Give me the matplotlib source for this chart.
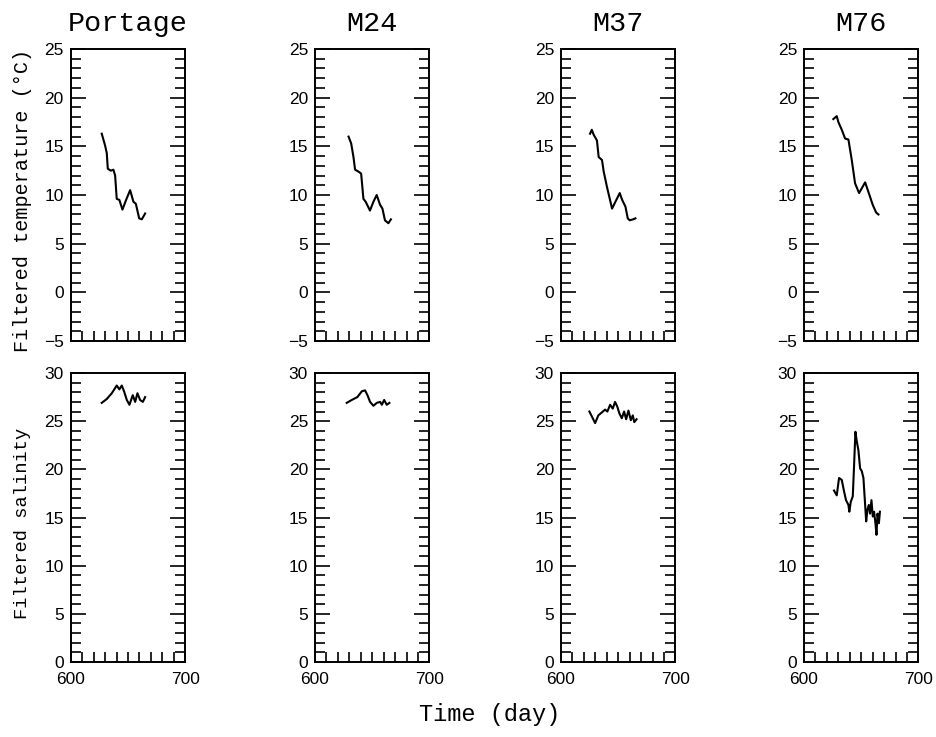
import matplotlib
matplotlib.use("Agg")
import matplotlib.pyplot as plt
from matplotlib.ticker import MultipleLocator, FixedLocator

# stations
STATIONS = ["Portage", "M24", "M37", "M76"]

# filtered temperature (deg C) vs day
portage_t_day = [627.1, 630.0, 631.5, 632.4, 635.0, 637.3, 638.8, 640.2, 642.5, 645.2,
                 648.4, 651.9, 654.8, 656.9, 659.8, 662.1, 665.0]
portage_t = [16.3, 15.1, 14.3, 12.7, 12.5, 12.6, 12.0, 9.6, 9.5, 8.5,
             9.5, 10.5, 9.3, 9.1, 7.6, 7.5, 8.1]

m24_t_day = [629.3, 631.6, 633.6, 635.0, 638.0, 640.3, 642.3, 644.3, 648.0, 651.0,
             653.9, 656.8, 658.9, 661.1, 664.1, 666.3]
m24_t = [16.0, 15.3, 13.9, 12.6, 12.4, 12.2, 9.6, 9.3, 8.4, 9.3,
         10.0, 9.0, 8.6, 7.4, 7.1, 7.5]

m37_t_day = [625.4, 626.9, 628.5, 631.4, 632.9, 635.8, 637.3, 640.2, 644.6, 647.5,
             651.3, 653.4, 656.3, 658.3, 660.0, 663.0, 665.0]
m37_t = [16.3, 16.7, 16.2, 15.6, 13.9, 13.6, 12.4, 10.8, 8.6, 9.3,
         10.2, 9.5, 8.8, 7.6, 7.4, 7.5, 7.6]

m76_t_day = [625.6, 628.6, 630.0, 633.0, 635.9, 638.8, 641.7, 644.6, 648.1, 653.4,
             656.3, 660.0, 663.0, 665.0]
m76_t = [17.8, 18.1, 17.5, 16.7, 15.8, 15.7, 13.6, 11.2, 10.2, 11.3,
         10.3, 9.0, 8.2, 8.0]

# filtered salinity vs day
portage_s_day = [627.1, 631.5, 635.9, 640.2, 642.5, 644.6, 646.6, 649.0, 651.3, 654.2,
                 656.3, 658.3, 660.6, 663.0, 665.0]
portage_s = [26.9, 27.3, 27.9, 28.7, 28.3, 28.7, 28.1, 27.2, 26.7, 27.7,
             27.0, 27.9, 27.2, 27.0, 27.5]

m24_s_day = [627.7, 632.1, 637.0, 640.9, 643.7, 645.8, 648.1, 651.0, 654.0, 656.9,
             658.4, 660.4, 662.7, 665.0]
m24_s = [26.9, 27.2, 27.5, 28.1, 28.2, 27.7, 27.0, 26.6, 26.9, 27.0,
         26.7, 27.2, 26.7, 26.9]

m37_s_day = [624.8, 626.9, 629.8, 632.6, 635.6, 638.5, 640.5, 642.9, 645.2, 647.2,
             649.2, 651.0, 653.1, 655.1, 656.9, 658.9, 661.0, 662.7, 664.0, 666.0]
m37_s = [26.0, 25.5, 24.8, 25.6, 25.9, 26.2, 26.0, 26.7, 26.3, 27.0,
         26.5, 25.8, 25.3, 26.0, 25.2, 26.1, 25.1, 25.6, 24.9, 25.2]

m76_s_day = [626.2, 628.6, 630.6, 633.0, 635.0, 636.7, 638.8, 639.6, 640.8, 642.6,
             643.7, 644.9, 646.1, 647.5, 649.0, 650.5, 651.9, 653.4, 654.3, 655.4,
             656.6, 657.7, 658.9, 660.1, 661.2, 662.4, 663.3, 664.2, 665.4, 666.3]
m76_s = [17.8, 17.3, 19.1, 18.9, 17.7, 16.8, 16.3, 15.6, 16.6, 17.2,
         20.3, 23.9, 22.9, 22.0, 20.1, 19.8, 19.1, 16.3, 14.6, 15.8,
         16.3, 15.4, 16.8, 15.1, 15.6, 14.4, 13.2, 15.4, 14.4, 15.6]

temp_data = [(portage_t_day, portage_t), (m24_t_day, m24_t),
             (m37_t_day, m37_t), (m76_t_day, m76_t)]
sal_data = [(portage_s_day, portage_s), (m24_s_day, m24_s),
            (m37_s_day, m37_s), (m76_s_day, m76_s)]

W, H = 937, 737
LEFTS = [70.7, 315, 561, 804]
PW = 114.5
ROWS = [(49, 341), (373, 662)]

TITLE_FONT = ["Liberation Mono", "DejaVu Sans Mono"]
TICK_FONT = ["Liberation Sans", "DejaVu Sans"]

fig = plt.figure(figsize=(W / 100, H / 100), dpi=100)


def make_axes(left, top, bottom):
    return fig.add_axes([left / W, 1 - bottom / H, PW / W, (bottom - top) / H])


def style(ax, ylim, show_xlabels):
    ax.set_xlim(600, 700)
    ax.set_ylim(*ylim)
    ax.xaxis.set_major_locator(FixedLocator([600, 700]))
    ax.xaxis.set_minor_locator(MultipleLocator(10))
    ax.yaxis.set_major_locator(MultipleLocator(5))
    ax.yaxis.set_minor_locator(MultipleLocator(1))
    ax.tick_params(which="both", direction="in", left=True, right=True,
                   bottom=True, top=False, width=1.2, color="black")
    ax.tick_params(axis="y", which="major", length=11)
    ax.tick_params(axis="y", which="minor", length=7)
    ax.tick_params(axis="x", which="both", length=7.5)
    ax.tick_params(axis="y", labelsize=12.5, pad=5)
    ax.tick_params(axis="x", labelsize=12.5, pad=7)
    if not show_xlabels:
        ax.tick_params(axis="x", labelbottom=False)
    for lab in ax.get_xticklabels() + ax.get_yticklabels():
        lab.set_fontfamily(TICK_FONT)
    for sp in ax.spines.values():
        sp.set_linewidth(1.4)


for i, name in enumerate(STATIONS):
    ax = make_axes(LEFTS[i], *ROWS[0])
    x, y = temp_data[i]
    ax.plot(x, y, color="black", lw=1.5)
    style(ax, (-5, 25), False)
    ax.set_title(name, fontsize=20.5, family=TITLE_FONT, pad=13)

    ax2 = make_axes(LEFTS[i], *ROWS[1])
    x, y = sal_data[i]
    ax2.plot(x, y, color="black", lw=1.5)
    style(ax2, (0, 30), True)

fig.text(23 / W, 1 - 200 / H, "Filtered temperature (°C)", rotation=90,
         ha="center", va="center", fontsize=14.5, family=TITLE_FONT)
fig.text(23 / W, 1 - 523 / H, "Filtered salinity", rotation=90,
         ha="center", va="center", fontsize=13.5, family=TITLE_FONT)
fig.text(490 / W, 1 - 715 / H, "Time (day)", ha="center", va="center",
         fontsize=17, family=TITLE_FONT)

fig.savefig("out.png", dpi=100)
